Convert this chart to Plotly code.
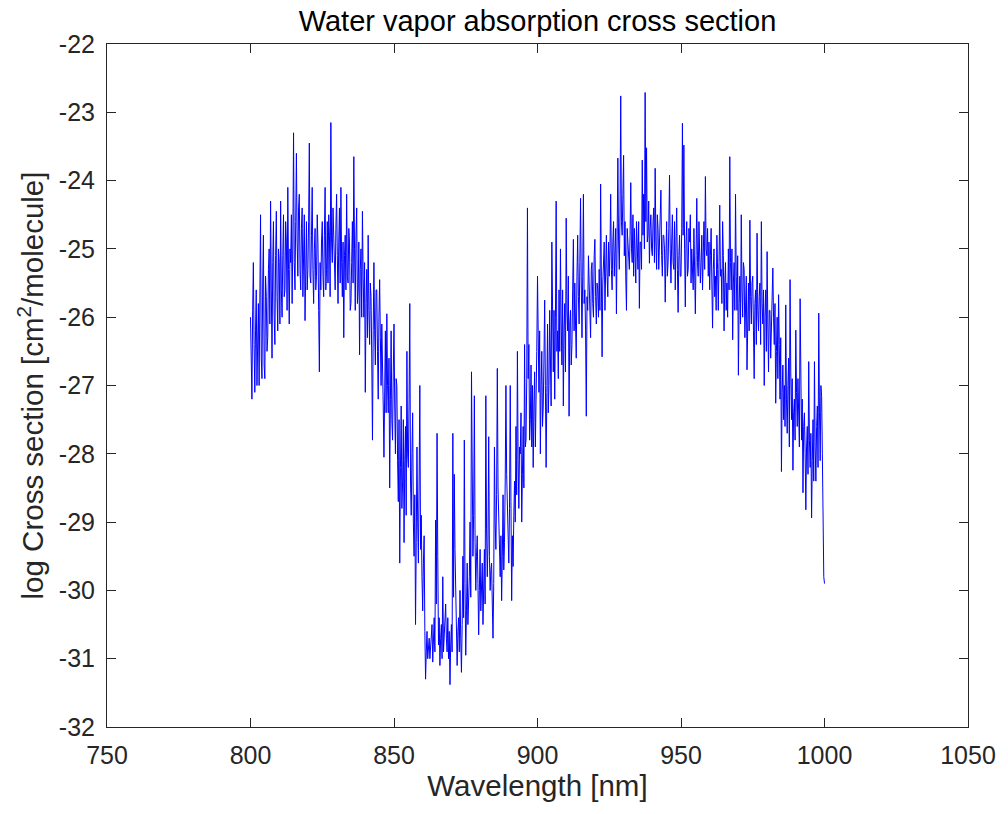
import numpy as np
import plotly.graph_objects as go

# ---- data (log10 cross section, 0.25 nm sampling) ----
wl_start, wl_end = 800.0, 1000.0

seg_800_850 = [
    -26.0, -26.9, -27.2, -25.9, -25.2, -26.4, -27.1, -26.2, -25.6, -27.0, -26.6, -25.8, -27.0, -26.1, -24.5, -26.6, -26.9, -25.5, -24.8, -26.7,
    -26.9, -25.4, -25.7, -26.5, -26.3, -25.3, -25.0, -26.1, -24.3, -25.6, -26.6, -25.2, -24.6, -26.0, -26.4, -25.1, -24.45, -25.7, -26.2, -25.0,
    -25.2, -26.1, -24.3, -25.6, -26.0, -25.1, -24.5, -25.7, -25.6, -24.6, -24.9, -25.9, -24.1, -25.3, -26.1, -25.0, -25.2, -24.5, -25.8, -24.9,
    -23.3, -25.2, -25.6, -24.6, -23.6, -24.9, -25.4, -24.4, -24.2, -25.3, -25.6, -24.7, -24.4, -25.7, -25.2, -24.5, -26.05, -25.0, -24.6, -25.6,
    -25.3, -24.6, -23.45, -25.4, -25.5, -24.8, -24.1, -25.3, -25.8, -25.0, -24.7, -25.6, -25.4, -24.5, -24.9, -25.9, -26.8, -25.2, -25.6, -24.9,
    -24.6, -25.4, -25.7, -24.8, -24.1, -25.6, -25.3, -24.6, -25.5, -24.5, -24.8, -25.7, -23.15, -24.9, -25.2, -24.4, -24.8, -25.3, -25.6, -24.7,
    -24.2, -25.1, -25.8, -24.9, -24.4, -25.5, -24.1, -25.2, -25.7, -24.9, -26.3, -25.1, -24.8, -25.6, -24.2, -25.4, -25.5, -24.7, -24.9, -25.9,
    -25.8, -25.2, -24.6, -25.5, -23.65, -25.0, -25.9, -24.8, -24.4, -25.8, -25.6, -24.9, -26.55, -25.3, -25.0, -26.0, -24.45, -25.4, -26.0, -25.2,
    -27.1, -25.8, -25.3, -26.3, -24.8, -25.9, -26.4, -25.5, -25.7, -26.6, -27.8, -26.2, -25.2, -26.2, -26.7, -25.6, -25.6, -26.5, -27.2, -26.0,
    -25.45, -26.3, -27.0, -26.1, -26.5, -27.3, -28.05, -26.9, -26.2, -27.4, -25.95, -27.0, -27.4, -26.6, -28.5, -27.2, -26.2, -27.5, -27.8, -26.8,
]

seg_850_900 = [
    -26.1, -27.3, -28.0, -26.9, -27.0, -28.1, -28.7, -27.5, -29.6, -28.2, -27.3, -28.8, -28.4, -27.5, -29.3, -28.1, -27.6, -28.9, -26.5, -28.0,
    -28.2, -27.2, -25.8, -28.4, -28.9, -28.0, -27.4, -29.0, -29.5, -28.6, -30.5, -29.3, -27.9, -29.0, -29.6, -28.4, -27.0, -29.4, -28.9, -29.8,
    -30.3, -29.6, -29.2, -30.6, -31.3, -30.9, -30.6, -31.0, -30.9, -30.7, -31.0, -30.8, -30.8, -30.5, -31.05, -30.7, -30.4, -30.9, -28.97, -30.2,
    -27.7, -29.5, -30.8, -30.4, -31.1, -30.7, -30.5, -31.0, -29.8, -30.9, -30.6, -30.3, -30.2, -30.7, -30.9, -30.4, -31.0, -30.6, -31.38, -30.8,
    -30.5, -30.9, -27.7, -30.1, -28.3, -29.4, -30.2, -30.7, -31.1, -30.6, -30.4, -30.9, -30.0, -30.7, -31.2, -30.5, -29.5, -30.4, -27.8, -29.9,
    -30.95, -30.3, -29.6, -30.5, -30.2, -29.8, -29.0, -30.1, -26.8, -28.7, -29.5, -28.9, -27.15, -29.3, -30.0, -29.5, -29.2, -29.9, -30.65, -30.0,
    -29.4, -30.3, -30.0, -29.6, -30.5, -29.8, -29.4, -30.2, -27.15, -29.1, -29.8, -29.3, -27.75, -29.5, -30.0, -29.7, -29.6, -30.2, -30.7, -29.9,
    -27.9, -29.0, -29.4, -28.6, -26.75, -28.5, -29.0, -29.6, -29.8, -29.2, -30.15, -29.5, -28.6, -29.7, -29.3, -28.4, -27.0, -28.3, -28.9, -29.4,
    -29.6, -28.8, -27.0, -28.7, -30.15, -29.2, -29.65, -28.9, -28.4, -29.0, -27.6, -28.6, -26.5, -28.1, -28.8, -27.9, -28.0, -27.4, -29.0, -28.3,
    -27.6, -28.5, -26.4, -27.9, -27.8, -26.9, -24.4, -26.9, -26.4, -27.8, -27.5, -26.7, -27.9, -27.0, -28.2, -27.3, -26.8, -27.9, -27.4, -26.5,
]

seg_900_950 = [
    -25.4, -26.7, -27.1, -26.2, -28.0, -27.0, -26.5, -27.6, -27.3, -26.6, -25.75, -27.0, -28.2, -27.1, -26.1, -27.4, -27.0, -25.9, -26.4, -27.3,
    -24.9, -26.3, -26.8, -25.9, -27.2, -26.0, -24.3, -26.5, -26.2, -26.9, -25.6, -26.5, -25.0, -26.1, -26.7, -25.6, -27.3, -26.2, -25.8, -26.8,
    -24.55, -25.9, -26.2, -25.4, -27.45, -26.1, -25.9, -26.7, -26.4, -25.6, -24.86, -26.2, -25.5, -26.1, -26.6, -25.4, -24.8, -25.7, -26.1, -25.2,
    -24.26, -25.5, -26.3, -25.4, -24.2, -25.8, -25.6, -26.2, -27.45, -25.7, -25.9, -25.1, -25.4, -25.9, -26.3, -25.3, -25.2, -25.8, -26.0, -25.1,
    -24.86, -25.7, -26.1, -25.5, -25.6, -26.0, -25.3, -25.9, -24.05, -25.4, -26.58, -25.5, -25.3, -24.9, -25.9, -25.2, -24.8, -25.4, -25.7, -24.9,
    -25.4, -25.0, -24.2, -25.3, -25.6, -24.9, -24.6, -25.4, -25.1, -24.7, -25.95, -24.9, -23.67, -24.9, -25.3, -24.5, -22.76, -24.6, -24.8, -24.2,
    -23.63, -25.1, -24.6, -25.4, -25.9, -24.7, -24.9, -25.3, -25.3, -24.8, -24.03, -25.0, -25.2, -24.5, -25.4, -24.7, -25.1, -25.5, -24.6, -25.2,
    -25.3, -24.6, -25.87, -24.9, -24.9, -25.3, -23.7, -24.8, -24.2, -25.0, -22.71, -24.6, -23.52, -24.9, -24.8, -24.3, -25.21, -24.7, -24.5, -25.0,
    -25.1, -24.6, -24.4, -25.2, -23.82, -24.9, -25.3, -24.5, -24.7, -25.3, -25.0, -24.4, -24.14, -25.1, -25.4, -24.8, -24.8, -25.0, -25.78, -25.1,
    -24.6, -25.4, -25.2, -24.7, -23.92, -25.0, -25.5, -24.9, -24.5, -25.2, -25.3, -24.6, -25.6, -24.9, -24.4, -25.3, -25.93, -25.1, -24.8, -25.4,
]

seg_950_1000 = [
    -25.4, -24.7, -23.16, -24.8, -23.48, -25.0, -25.85, -24.9, -24.6, -25.4, -25.3, -24.7, -24.9, -24.5, -25.5, -25.0, -25.2, -25.6, -24.7, -25.3,
    -25.95, -25.1, -24.26, -25.2, -25.4, -24.6, -24.9, -25.5, -25.2, -24.8, -25.6, -24.9, -24.6, -25.3, -23.94, -25.0, -25.1, -24.7, -25.4, -24.9,
    -25.6, -25.1, -24.7, -25.5, -26.16, -25.3, -25.0, -25.7, -25.4, -25.9, -24.8, -25.3, -25.9, -25.2, -24.36, -25.4, -25.3, -25.8, -24.6, -25.1,
    -26.2, -25.5, -25.2, -25.9, -25.5, -26.0, -25.0, -25.6, -23.65, -25.2, -25.6, -25.0, -26.33, -25.5, -25.2, -25.9, -24.2, -25.4, -25.9, -25.1,
    -26.85, -25.8, -25.4, -26.1, -24.5, -25.6, -26.0, -25.2, -25.3, -26.3, -25.9, -25.4, -26.77, -25.9, -25.5, -26.2, -24.58, -25.7, -26.1, -25.5,
    -25.4, -26.2, -26.9, -25.8, -25.6, -26.4, -24.77, -25.9, -26.2, -25.7, -25.5, -26.4, -24.6, -25.8, -26.1, -25.6, -27.0, -26.0, -25.6, -26.5,
    -25.04, -26.1, -26.8, -25.9, -25.9, -26.6, -26.2, -25.7, -25.28, -26.0, -26.4, -25.8, -27.26, -26.5, -26.0, -26.9, -25.67, -26.4, -27.2, -26.3,
    -28.26, -27.1, -26.7, -27.5, -27.0, -27.6, -25.82, -27.2, -27.7, -27.0, -26.6, -27.9, -25.45, -26.8, -27.5, -26.9, -28.24, -27.4, -27.2, -27.8,
    -26.19, -27.1, -27.6, -26.9, -27.3, -27.9, -25.73, -27.5, -27.8, -27.2, -28.57, -27.6, -27.4, -28.0, -28.82, -27.9, -27.6, -28.3, -26.65, -27.8,
    -28.2, -27.7, -28.94, -28.1, -27.5, -28.4, -26.65, -27.9, -28.4, -27.6, -27.3, -28.2, -25.94, -27.4, -28.1, -27.0, -27.16, -28.0, -29.26, -29.8,
    -29.9,
]

x_tick_vals = [750, 800, 850, 900, 950, 1000, 1050]
x_tick_text = ["750", "800", "850", "900", "950", "1000", "1050"]
y_tick_vals = [-32, -31, -30, -29, -28, -27, -26, -25, -24, -23, -22]
y_tick_text = ["-32", "-31", "-30", "-29", "-28", "-27", "-26", "-25", "-24", "-23", "-22"]

log_xs = seg_800_850 + seg_850_900 + seg_900_950 + seg_950_1000
wavelength = np.linspace(wl_start, wl_end, len(log_xs))

FONT = "Liberation Sans, Arial, Helvetica, sans-serif"
AX = "#262626"

fig = go.Figure(
    go.Scatter(x=wavelength, y=log_xs, mode="lines",
               line=dict(color="#0000FF", width=1), showlegend=False)
)

axis_common = dict(
    showline=True, linecolor=AX, linewidth=1, mirror="ticks",
    ticks="inside", ticklen=9, tickwidth=1, tickcolor=AX,
    showgrid=False, zeroline=False,
    tickfont=dict(family=FONT, size=25, color=AX),
)

fig.update_layout(
    width=1008, height=814, autosize=False,
    margin=dict(l=107, r=32, t=44, b=87),
    paper_bgcolor="white", plot_bgcolor="white",
    title=dict(text="Water vapor absorption cross section",
               font=dict(family=FONT, size=29, color="black"),
               x=0.5, xref="paper", xanchor="center",
               y=1 - 21 / 814, yref="container", yanchor="middle"),
    xaxis=dict(range=[750, 1050], tickvals=x_tick_vals, ticktext=x_tick_text,
               title=dict(text="Wavelength [nm]", standoff=2,
                          font=dict(family=FONT, size=29.5, color=AX)),
               ticklabelstandoff=6, **axis_common),
    yaxis=dict(range=[-32, -22], tickvals=y_tick_vals, ticktext=y_tick_text,
               title=dict(text="log Cross section [cm<sup>2</sup>/molecule]", standoff=6,
                          font=dict(family=FONT, size=29.5, color=AX)),
               ticklabelstandoff=6, **axis_common),
)

fig.write_html("out.html")
